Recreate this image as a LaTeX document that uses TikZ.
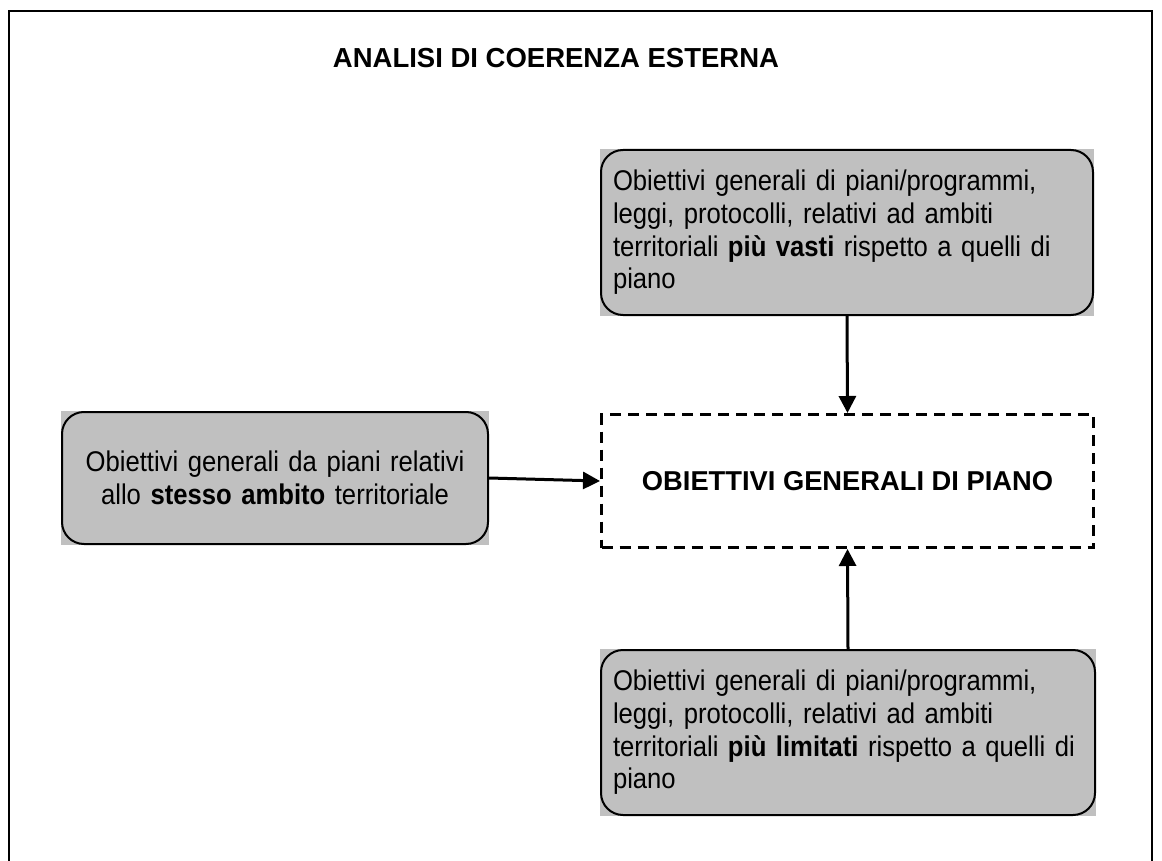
\documentclass[tikz,border=0pt]{standalone}
\usepackage{fontspec}
\setmainfont{Liberation Sans}
\newfontfamily\bodyfont[FakeStretch=0.90]{Liberation Sans}
\usetikzlibrary{arrows.meta,backgrounds}
\definecolor{boxgrey}{HTML}{C0C0C0}
\begin{document}
\begin{tikzpicture}[x=1pt,y=-1pt,
  every node/.style={font=\fontsize{27.3pt}{32.6pt}\selectfont},
  greybox/.style={draw=black,line width=2pt,rounded corners=22pt,anchor=north west,inner xsep=12pt,inner ysep=0pt,font=\bodyfont\fontsize{28.5pt}{32.6pt}\selectfont},
  dashbox/.style={draw=black,line width=3pt,dash pattern=on 11pt off 7pt,anchor=north west,inner sep=0pt,align=center},
  arr/.style={line width=3pt,-{Triangle[length=17pt,width=17pt]}},
  frame/.style={line width=2.5pt}]
\useasboundingbox (0,0) rectangle (1162,861);
\draw[frame] (9,875) -- (9,11) -- (1152,11) -- (1152,875);
\node[anchor=base,font=\fontsize{27.5pt}{32.6pt}\selectfont\bfseries] (title) at (556,68) {ANALISI DI COERENZA ESTERNA};
\node[greybox,minimum width=492pt,minimum height=165pt,text width=468pt,align=left] (top) at (600,149)
  {\mbox{Obiettivi generali di piani/programmi,}\\\mbox{leggi, protocolli, relativi ad ambiti}\\\mbox{territoriali \textbf{più vasti} rispetto a quelli di}\\piano};
\node[greybox,minimum width=426pt,minimum height=132pt,text width=402pt,align=center] (left) at (61,411)
  {\mbox{Obiettivi generali da piani relativi}\\\mbox{allo \textbf{stesso ambito} territoriale}};
\node[greybox,minimum width=494pt,minimum height=165pt,text width=470pt,align=left] (bot) at (600,649)
  {\mbox{Obiettivi generali di piani/programmi,}\\\mbox{leggi, protocolli, relativi ad ambiti}\\\mbox{territoriali \textbf{più limitati} rispetto a quelli di}\\piano};
\node[dashbox,minimum width=492pt,minimum height=133pt] (mid) at (600,413) {\textbf{OBIETTIVI GENERALI DI PIANO}};
\begin{scope}[on background layer]
  \fill[boxgrey] (top.south west) rectangle (top.north east);
  \fill[boxgrey] (left.south west) rectangle (left.north east);
  \fill[boxgrey] (bot.south west) rectangle (bot.north east);
\end{scope}
\draw[arr] (top.south) -- (mid.north);
\draw[arr] (left.east) -- (mid.west);
\draw[arr] (bot.north) -- (mid.south);
\end{tikzpicture}
\end{document}
